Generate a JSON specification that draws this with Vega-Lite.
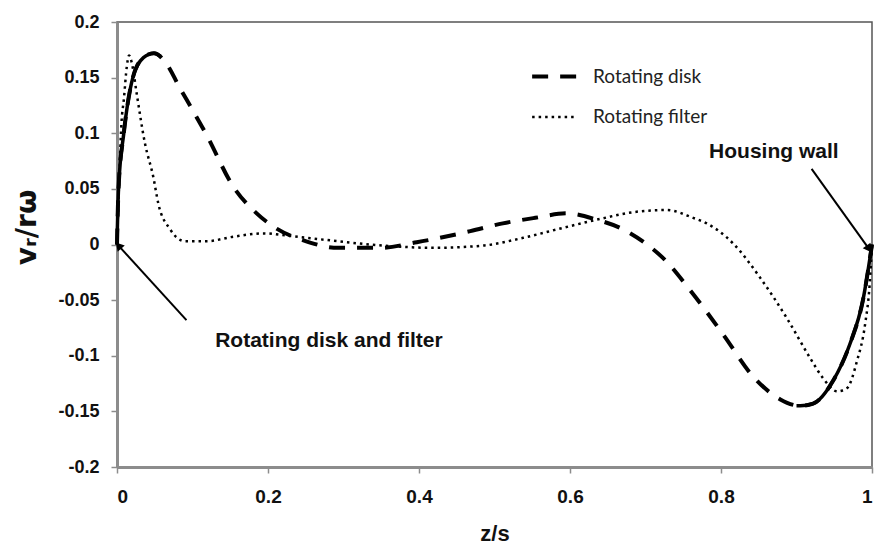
{
  "$schema": "https://vega.github.io/schema/vega-lite/v6.json",
  "width": 755,
  "height": 445,
  "autosize": {"type": "none"},
  "padding": {"left": 117, "top": 22, "right": 2, "bottom": 83},
  "background": "white",
  "config": {
    "view": {"stroke": "#555", "strokeWidth": 1.5},
    "font": "Liberation Sans"
  },
  "datasets": {
    "curves": [
      {"series": "Rotating disk", "z": 0, "v": 0},
      {"series": "Rotating disk", "z": 0.002, "v": 0.05},
      {"series": "Rotating disk", "z": 0.009, "v": 0.1},
      {"series": "Rotating disk", "z": 0.021, "v": 0.15},
      {"series": "Rotating disk", "z": 0.035, "v": 0.168},
      {"series": "Rotating disk", "z": 0.049, "v": 0.172},
      {"series": "Rotating disk", "z": 0.065, "v": 0.163},
      {"series": "Rotating disk", "z": 0.083, "v": 0.141},
      {"series": "Rotating disk", "z": 0.1, "v": 0.121},
      {"series": "Rotating disk", "z": 0.119, "v": 0.098},
      {"series": "Rotating disk", "z": 0.154, "v": 0.052},
      {"series": "Rotating disk", "z": 0.185, "v": 0.028},
      {"series": "Rotating disk", "z": 0.212, "v": 0.014},
      {"series": "Rotating disk", "z": 0.246, "v": 0.004},
      {"series": "Rotating disk", "z": 0.293, "v": -0.003},
      {"series": "Rotating disk", "z": 0.348, "v": -0.003},
      {"series": "Rotating disk", "z": 0.397, "v": 0.002},
      {"series": "Rotating disk", "z": 0.468, "v": 0.012},
      {"series": "Rotating disk", "z": 0.511, "v": 0.019},
      {"series": "Rotating disk", "z": 0.554, "v": 0.024},
      {"series": "Rotating disk", "z": 0.596, "v": 0.028},
      {"series": "Rotating disk", "z": 0.637, "v": 0.022},
      {"series": "Rotating disk", "z": 0.666, "v": 0.015},
      {"series": "Rotating disk", "z": 0.702, "v": 0.0},
      {"series": "Rotating disk", "z": 0.723, "v": -0.012},
      {"series": "Rotating disk", "z": 0.759, "v": -0.041},
      {"series": "Rotating disk", "z": 0.803, "v": -0.081},
      {"series": "Rotating disk", "z": 0.843, "v": -0.119},
      {"series": "Rotating disk", "z": 0.878, "v": -0.139},
      {"series": "Rotating disk", "z": 0.905, "v": -0.145},
      {"series": "Rotating disk", "z": 0.922, "v": -0.143},
      {"series": "Rotating disk", "z": 0.948, "v": -0.123},
      {"series": "Rotating disk", "z": 0.971, "v": -0.089},
      {"series": "Rotating disk", "z": 0.988, "v": -0.05},
      {"series": "Rotating disk", "z": 1, "v": 0},
      {"series": "Rotating filter", "z": 0, "v": 0},
      {"series": "Rotating filter", "z": 0.003, "v": 0.06},
      {"series": "Rotating filter", "z": 0.006, "v": 0.11},
      {"series": "Rotating filter", "z": 0.009, "v": 0.13},
      {"series": "Rotating filter", "z": 0.013, "v": 0.16},
      {"series": "Rotating filter", "z": 0.016, "v": 0.17},
      {"series": "Rotating filter", "z": 0.02, "v": 0.162},
      {"series": "Rotating filter", "z": 0.026, "v": 0.136},
      {"series": "Rotating filter", "z": 0.037, "v": 0.091},
      {"series": "Rotating filter", "z": 0.048, "v": 0.061},
      {"series": "Rotating filter", "z": 0.055, "v": 0.036},
      {"series": "Rotating filter", "z": 0.07, "v": 0.014},
      {"series": "Rotating filter", "z": 0.09, "v": 0.003},
      {"series": "Rotating filter", "z": 0.119, "v": 0.003},
      {"series": "Rotating filter", "z": 0.154, "v": 0.007},
      {"series": "Rotating filter", "z": 0.194, "v": 0.01},
      {"series": "Rotating filter", "z": 0.225, "v": 0.008},
      {"series": "Rotating filter", "z": 0.265, "v": 0.005},
      {"series": "Rotating filter", "z": 0.353, "v": -0.001},
      {"series": "Rotating filter", "z": 0.419, "v": -0.003},
      {"series": "Rotating filter", "z": 0.485, "v": -0.001},
      {"series": "Rotating filter", "z": 0.538, "v": 0.006},
      {"series": "Rotating filter", "z": 0.591, "v": 0.015},
      {"series": "Rotating filter", "z": 0.64, "v": 0.023},
      {"series": "Rotating filter", "z": 0.683, "v": 0.029},
      {"series": "Rotating filter", "z": 0.728, "v": 0.031},
      {"series": "Rotating filter", "z": 0.763, "v": 0.024},
      {"series": "Rotating filter", "z": 0.781, "v": 0.019},
      {"series": "Rotating filter", "z": 0.816, "v": 0.001},
      {"series": "Rotating filter", "z": 0.852, "v": -0.03},
      {"series": "Rotating filter", "z": 0.887, "v": -0.066},
      {"series": "Rotating filter", "z": 0.918, "v": -0.102},
      {"series": "Rotating filter", "z": 0.935, "v": -0.12},
      {"series": "Rotating filter", "z": 0.954, "v": -0.132},
      {"series": "Rotating filter", "z": 0.967, "v": -0.129},
      {"series": "Rotating filter", "z": 0.98, "v": -0.105},
      {"series": "Rotating filter", "z": 0.991, "v": -0.071},
      {"series": "Rotating filter", "z": 0.997, "v": -0.035},
      {"series": "Rotating filter", "z": 1, "v": 0}
    ],
    "solid": [
      {"seg": "a", "z": 0, "v": 0},
      {"seg": "a", "z": 0.002, "v": 0.05},
      {"seg": "a", "z": 0.009, "v": 0.1},
      {"seg": "a", "z": 0.021, "v": 0.15},
      {"seg": "a", "z": 0.035, "v": 0.168},
      {"seg": "a", "z": 0.049, "v": 0.172},
      {"seg": "a", "z": 0.058, "v": 0.169},
      {"seg": "b", "z": 0.9, "v": -0.145},
      {"seg": "b", "z": 0.905, "v": -0.145},
      {"seg": "b", "z": 0.922, "v": -0.143},
      {"seg": "b", "z": 0.948, "v": -0.123},
      {"seg": "b", "z": 0.971, "v": -0.089},
      {"seg": "b", "z": 0.988, "v": -0.05},
      {"seg": "b", "z": 1, "v": 0}
    ],
    "arrows": [
      {"arrow": "hw", "z": 0.92, "v": 0.068},
      {"arrow": "hw", "z": 0.996, "v": -0.004},
      {"arrow": "rd", "z": 0.092, "v": -0.068},
      {"arrow": "rd", "z": 0.002, "v": -0.001}
    ],
    "labels": [
      {"text": "Housing wall", "z": 0.87, "v": 0.083},
      {"text": "Rotating disk and filter", "z": 0.13, "v": -0.087}
    ]
  },
  "layer": [
    {
      "data": {"name": "curves"},
      "mark": {"type": "line", "interpolate": "monotone", "color": "black", "strokeCap": "butt"},
      "encoding": {
        "x": {
          "field": "z", "type": "quantitative",
          "scale": {"domain": [0, 1], "nice": false},
          "axis": {
            "values": [0, 0.2, 0.4, 0.6, 0.8, 1],
            "labelExpr": "datum.value == 0 ? '0' : datum.value == 1 ? '1' : format(datum.value, '.1f')",
            "title": "z/s",
            "titleFont": "Liberation Sans",
            "titleFontSize": 22,
            "titleFontWeight": "bold",
            "titleColor": "#111",
            "titlePadding": 17,
            "labelFont": "Liberation Sans",
            "labelFontSize": 19,
            "labelFontWeight": "bold",
            "labelColor": "#111",
            "labelPadding": 14,
            "grid": false,
            "domainColor": "#8c8c8c",
            "domainWidth": 3,
            "tickColor": "#8c8c8c",
            "tickSize": 6,
            "tickWidth": 1.5
          }
        },
        "y": {
          "field": "v", "type": "quantitative",
          "scale": {"domain": [-0.2, 0.2], "nice": false},
          "axis": {
            "values": [-0.2, -0.15, -0.1, -0.05, 0, 0.05, 0.1, 0.15, 0.2],
            "labelExpr": "datum.value == 0 ? '0' : replace(format(datum.value, '.2~f'), '\u2212', '-')",
            "title": "vᵣ/rω",
            "titleFont": "DejaVu Sans",
            "titleFontSize": 28,
            "titleFontWeight": "bold",
            "titleColor": "#111",
            "titleX": -90,
            "titleY": 205,
            "titleBaseline": "middle",
            "labelFont": "Liberation Sans",
            "labelFontSize": 18,
            "labelFontWeight": "bold",
            "labelColor": "#111",
            "labelPadding": 12,
            "grid": false,
            "domainColor": "#8c8c8c",
            "domainWidth": 3,
            "tickColor": "#8c8c8c",
            "tickSize": 6,
            "tickWidth": 1.5
          }
        },
        "detail": {"field": "series"},
        "strokeDash": {
          "field": "series", "type": "nominal",
          "scale": {"domain": ["Rotating disk", "Rotating filter"], "range": [[16, 12], [2.5, 4]]},
          "legend": {
            "title": null,
            "orient": "none",
            "legendX": 413,
            "legendY": 30,
            "symbolType": "stroke",
            "symbolSize": 2000,
            "symbolStrokeColor": "black",
            "labelFont": "Lato",
            "labelFontSize": 19,
            "labelColor": "#222",
            "labelOffset": 14,
            "rowPadding": 6,
            "padding": 0
          }
        },
        "strokeWidth": {
          "field": "series", "type": "nominal",
          "scale": {"domain": ["Rotating disk", "Rotating filter"], "range": [4, 2.5]},
          "legend": null
        }
      }
    },
    {
      "data": {"name": "solid"},
      "mark": {"type": "line", "interpolate": "monotone", "color": "black", "strokeWidth": 3.5},
      "encoding": {
        "x": {"field": "z", "type": "quantitative"},
        "y": {"field": "v", "type": "quantitative"},
        "detail": {"field": "seg"}
      }
    },
    {
      "data": {"name": "arrows"},
      "mark": {"type": "line", "color": "black", "strokeWidth": 2},
      "encoding": {
        "x": {"field": "z", "type": "quantitative"},
        "y": {"field": "v", "type": "quantitative"},
        "detail": {"field": "arrow"}
      }
    },
    {
      "data": {"name": "arrows"},
      "transform": [{"filter": "datum.arrow == 'hw' && datum.z > 0.99"}],
      "mark": {"type": "point", "shape": "triangle-up", "filled": true, "color": "black", "size": 90, "angle": 144.5, "opacity": 1},
      "encoding": {
        "x": {"field": "z", "type": "quantitative"},
        "y": {"field": "v", "type": "quantitative"}
      }
    },
    {
      "data": {"name": "arrows"},
      "transform": [{"filter": "datum.arrow == 'rd' && datum.z < 0.01"}],
      "mark": {"type": "point", "shape": "triangle-up", "filled": true, "color": "black", "size": 90, "angle": 318.6, "opacity": 1},
      "encoding": {
        "x": {"field": "z", "type": "quantitative"},
        "y": {"field": "v", "type": "quantitative"}
      }
    },
    {
      "data": {"name": "labels"},
      "transform": [{"filter": "datum.text == 'Housing wall'"}],
      "mark": {"type": "text", "font": "Liberation Sans", "fontSize": 21, "fontWeight": "bold", "color": "#111", "baseline": "middle", "align": "center"},
      "encoding": {
        "x": {"field": "z", "type": "quantitative"},
        "y": {"field": "v", "type": "quantitative"},
        "text": {"field": "text"}
      }
    },
    {
      "data": {"name": "labels"},
      "transform": [{"filter": "datum.text != 'Housing wall'"}],
      "mark": {"type": "text", "font": "Liberation Sans", "fontSize": 21, "fontWeight": "bold", "color": "#111", "baseline": "middle", "align": "left"},
      "encoding": {
        "x": {"field": "z", "type": "quantitative"},
        "y": {"field": "v", "type": "quantitative"},
        "text": {"field": "text"}
      }
    }
  ]
}
